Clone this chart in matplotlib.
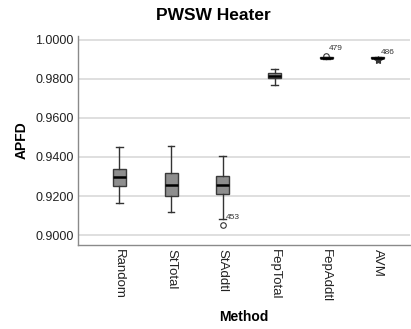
import matplotlib
matplotlib.use("Agg")
import matplotlib.pyplot as plt

plt.rcParams['font.family'] = ['Liberation Sans', 'DejaVu Sans']

methods = ["Random", "StTotal", "StAddtl", "FepTotal", "FepAddtl", "AVM"]
whislo = [0.9165, 0.9116, 0.9083, 0.9770, 0.9902, 0.9903]
q1     = [0.9251, 0.9200, 0.9208, 0.9802, 0.9905, 0.9906]
med    = [0.9298, 0.9256, 0.9258, 0.9814, 0.9907, 0.9908]
q3     = [0.9336, 0.9316, 0.9302, 0.9828, 0.9909, 0.9911]
whishi = [0.9449, 0.9454, 0.9406, 0.9848, 0.9911, 0.9913]
outlier_method = ["StAddtl", "FepAddtl", "AVM"]
outlier_value = [0.9051, 0.9918, 0.9896]
outlier_label = ["453", "479", "486"]
outlier_marker = ["o", "o", "*"]
yticks = [0.90, 0.92, 0.94, 0.96, 0.98, 1.00]

fig = plt.figure(figsize=(4.11, 3.29), dpi=100)
ax = fig.add_axes([78/411, (329-244.5)/329, (410-78)/411, (244.5-36)/329])

stats = []
for i, m in enumerate(methods):
    stats.append(dict(label=m, med=med[i], q1=q1[i], q3=q3[i],
                      whislo=whislo[i], whishi=whishi[i], fliers=[]))

ax.bxp(stats, positions=range(len(methods)), widths=0.25, patch_artist=True,
       showfliers=False, capwidths=0.13,
       boxprops=dict(facecolor="#8e8e8e", edgecolor="#3a3a3a", linewidth=1.0),
       medianprops=dict(color="black", linewidth=1.8),
       whiskerprops=dict(color="#333333", linewidth=1.0),
       capprops=dict(color="#333333", linewidth=1.0))

for m, v, lab, mk in zip(outlier_method, outlier_value, outlier_label, outlier_marker):
    x = methods.index(m)
    ax.plot([x], [v], marker=mk, markersize=4 if mk == "o" else 6,
            markerfacecolor="none" if mk == "o" else "#333333",
            markeredgecolor="#333333", markeredgewidth=0.8, linestyle="none")
    ax.annotate(lab, (x, v), xytext=(2, 3), textcoords="offset points",
                fontsize=6, color="#333333", ha="left", va="bottom")

ax.set_xlim(-0.80, 5.62)
ax.set_ylim(0.8952, 1.0019)
ax.set_yticks(yticks)
ax.set_yticklabels([f"{t:.4f}" for t in yticks], fontsize=9)
ax.set_xticks(range(len(methods)))
ax.set_xticklabels(methods, rotation=270, fontsize=9.5, va="top", ha="center")
ax.tick_params(axis="both", length=0, colors="#222222")
ax.tick_params(axis="y", pad=3)
ax.tick_params(axis="x", pad=3)
ax.yaxis.grid(True, color="#d9d9d9", linewidth=1.2)
ax.set_axisbelow(True)
for s in ["top", "right"]:
    ax.spines[s].set_visible(False)
for s in ["left", "bottom"]:
    ax.spines[s].set_color("#8a8a8a")
    ax.spines[s].set_linewidth(1.0)

ax.set_ylabel("APFD", fontsize=10, fontweight="bold", labelpad=5)
ax.set_xlabel("Method", fontsize=10, fontweight="bold", labelpad=6)
fig.text(0.518, 1 - 16/329, "PWSW Heater", fontsize=12.5, fontweight="bold",
         ha="center", va="center")

fig.savefig("out.png", dpi=100)
